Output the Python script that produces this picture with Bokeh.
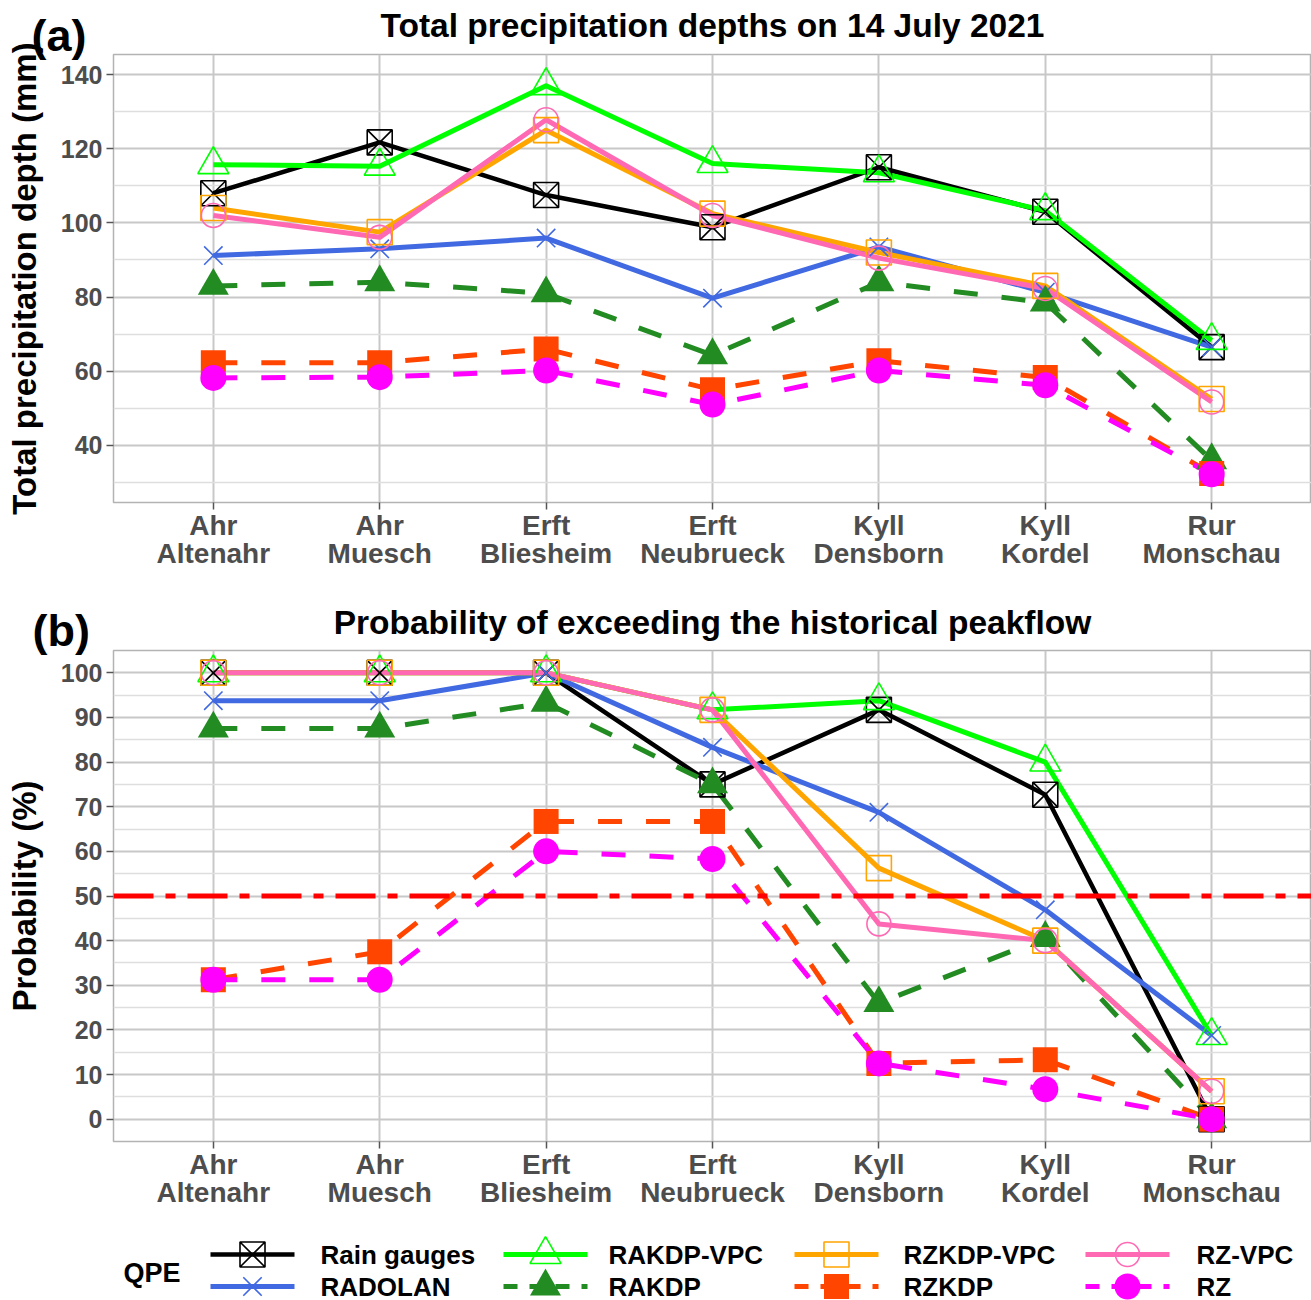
from bokeh.plotting import figure
from bokeh.models import FactorRange, FixedTicker, Span, Range1d, GridBox
from bokeh.embed import file_html
from bokeh.resources import INLINE
from bokeh.core.properties import value

FONT = "Liberation Sans"

# Gauging stations (river / site)
stations = ["Ahr\nAltenahr", "Ahr\nMuesch", "Erft\nBliesheim", "Erft\nNeubrueck",
            "Kyll\nDensborn", "Kyll\nKordel", "Rur\nMonschau"]

qpe_names = ["Rain gauges", "RADOLAN", "RAKDP-VPC", "RAKDP",
             "RZKDP-VPC", "RZKDP", "RZ-VPC", "RZ"]

# (a) total precipitation depth on 14 July 2021 (mm)
depth_rain_gauges = [108.0, 121.7, 107.5, 98.8, 115.0, 103.0, 66.5]
depth_radolan     = [91.2, 93.0, 95.9, 79.7, 93.5, 81.3, 66.5]
depth_rakdp_vpc   = [115.7, 115.3, 137.0, 116.0, 113.5, 103.3, 68.3]
depth_rakdp       = [83.0, 84.0, 81.0, 64.3, 84.0, 78.5, 36.0]
depth_rzkdp_vpc   = [104.0, 97.5, 125.0, 102.5, 92.0, 83.0, 52.5]
depth_rzkdp       = [62.3, 62.3, 66.0, 55.0, 62.8, 58.3, 32.4]
depth_rz_vpc      = [102.0, 96.1, 127.8, 102.0, 90.5, 82.3, 51.7]
depth_rz          = [58.2, 58.4, 60.2, 51.0, 60.2, 56.2, 32.2]

# (b) probability of exceeding the historical peakflow (%)
prob_rain_gauges = [100.0, 100.0, 100.0, 75.0, 91.7, 72.7, 0.0]
prob_radolan     = [93.75, 93.75, 100.0, 83.3, 68.75, 46.9, 18.75]
prob_rakdp_vpc   = [100.0, 100.0, 100.0, 91.7, 93.75, 80.0, 18.75]
prob_rakdp       = [87.5, 87.5, 93.3, 75.0, 26.0, 40.6, 0.0]
prob_rzkdp_vpc   = [100.0, 100.0, 100.0, 91.7, 56.25, 40.0, 6.25]
prob_rzkdp       = [31.25, 37.5, 66.7, 66.7, 12.5, 13.3, 0.0]
prob_rz_vpc      = [100.0, 100.0, 100.0, 91.7, 43.75, 40.0, 6.25]
prob_rz          = [31.25, 31.25, 60.0, 58.3, 12.5, 6.7, 0.0]

threshold = 50

depth = dict(zip(qpe_names, [depth_rain_gauges, depth_radolan, depth_rakdp_vpc, depth_rakdp,
                             depth_rzkdp_vpc, depth_rzkdp, depth_rz_vpc, depth_rz]))
prob = dict(zip(qpe_names, [prob_rain_gauges, prob_radolan, prob_rakdp_vpc, prob_rakdp,
                            prob_rzkdp_vpc, prob_rzkdp, prob_rz_vpc, prob_rz]))

# colour, marker, filled, dashed, marker size
STYLE = {
    "Rain gauges": ("black", "square_x", False, False, 25),
    "RADOLAN":     ("royalblue", "x", False, False, 26),
    "RAKDP-VPC":   ("#00ff00", "triangle", False, False, 31),
    "RAKDP":       ("forestgreen", "triangle", True, True, 31),
    "RZKDP-VPC":   ("orange", "square", False, False, 25),
    "RZKDP":       ("orangered", "square", True, True, 25),
    "RZ-VPC":      ("hotpink", "circle", False, False, 24),
    "RZ":          ("magenta", "circle", True, True, 26),
}
DASH = "24 24"
GRID_MAJOR = "#c8c8c8"
GRID_MINOR = "#dedede"
TICK_TEXT = "#4d4d4d"

WIDTH = 1311
LEFT = 113          # left border of both panels (px)
PAD = 0.1           # categorical padding beyond the outer half-categories


def make_panel(ylabel, y_start, y_end, major, minor, height, top, bottom):
    p = figure(width=WIDTH, height=height,
               x_range=FactorRange(factors=stations, range_padding=PAD,
                                   range_padding_units="absolute"),
               y_range=Range1d(y_start, y_end),
               output_backend="svg", toolbar_location=None,
               min_border_left=LEFT, min_border_right=0,
               min_border_top=top, min_border_bottom=bottom,
               background_fill_color="white", border_fill_color="white")
    p.outline_line_color = "#b3b3b3"
    p.outline_line_width = 1.5

    p.yaxis.ticker = FixedTicker(ticks=major, minor_ticks=minor)
    p.ygrid.grid_line_color = GRID_MAJOR
    p.ygrid.grid_line_width = 2
    p.ygrid.minor_grid_line_color = GRID_MINOR
    p.ygrid.minor_grid_line_width = 1.5
    p.xgrid.grid_line_color = GRID_MAJOR
    p.xgrid.grid_line_width = 2

    for ax in (p.xaxis[0], p.yaxis[0]):
        ax.axis_line_color = None
        ax.major_tick_in = 0
        ax.major_tick_out = 7
        ax.major_tick_line_color = "#555555"
        ax.major_tick_line_width = 1.5
        ax.minor_tick_line_color = None
        ax.major_label_text_font = FONT
        ax.major_label_text_font_style = "bold"
        ax.major_label_text_color = TICK_TEXT
    p.yaxis.major_label_text_font_size = "25px"
    p.yaxis.major_label_standoff = 4
    p.xaxis.major_label_text_font_size = "28px"
    p.xaxis.major_label_text_line_height = 0.93
    p.xaxis.major_label_standoff = 0

    p.yaxis.axis_label = ylabel
    p.yaxis.axis_label_text_font = FONT
    p.yaxis.axis_label_text_font_size = "33px"
    p.yaxis.axis_label_text_font_style = "bold"
    p.yaxis.axis_label_text_color = "black"
    p.yaxis.axis_label_standoff = 15
    return p


def draw_series(p, data):
    for name in qpe_names:
        color, marker, filled, dashed, size = STYLE[name]
        p.line(stations, data[name], line_color=color,
               line_width=4.5 if name == "Rain gauges" else 5,
               line_dash=DASH if dashed else "solid", line_join="round")
    for name in qpe_names:
        color, marker, filled, dashed, size = STYLE[name]
        p.scatter(stations, data[name], marker=marker, size=size,
                  line_color=color, line_width=0 if filled else 1.6,
                  fill_color=color if filled else None)


# (a) precipitation depths
A_H = 585
p_a = make_panel("Total precipitation depth (mm)",
                 24.6, 145.4, [40, 60, 80, 100, 120, 140], [30, 50, 70, 90, 110, 130],
                 height=A_H, top=54, bottom=83)
draw_series(p_a, depth)

# (b) exceedance probability
B_H = 640
p_b = make_panel("Probability (%)",
                 -5, 105, list(range(0, 101, 10)), list(range(5, 100, 10)),
                 height=B_H, top=65, bottom=84)
draw_series(p_b, prob)
p_b.add_layout(Span(location=threshold, dimension="width", line_color="red",
                    line_width=5, line_dash="40 12 10 12"))

# legend strip (coordinates are canvas pixels)
LEG_H = 75
p_leg = figure(width=WIDTH, height=LEG_H, x_range=Range1d(LEFT, WIDTH), y_range=Range1d(LEG_H, 0),
               output_backend="svg", toolbar_location=None,
               min_border_left=LEFT, min_border_right=0, min_border_top=0, min_border_bottom=0,
               x_axis_location=None, y_axis_location=None,
               background_fill_color="white", border_fill_color="white")
p_leg.grid.visible = False
p_leg.outline_line_color = None

key_centers = [252, 545, 836, 1127]
label_starts = [320, 608, 903, 1196]
row_centers = [29, 61]
key_half = 42

p_leg.text([123], [47], text=["QPE"], text_font=value(FONT), text_font_size="27px",
           text_font_style="bold", text_color="black", text_baseline="middle", text_align="left")
for i, name in enumerate(qpe_names):
    col, row = i // 2, i % 2
    color, marker, filled, dashed, size = STYLE[name]
    cx, cy = key_centers[col], row_centers[row]
    p_leg.line([cx - key_half, cx + key_half], [cy, cy], line_color=color,
               line_width=4.5 if name == "Rain gauges" else 5,
               line_dash="14 12" if dashed else "solid")
    p_leg.scatter([cx], [cy], marker=marker, size=size, line_color=color,
                  line_width=0 if filled else 1.6, fill_color=color if filled else None)
    p_leg.text([label_starts[col]], [cy], text=[name], text_font=value(FONT),
               text_font_size="26px", text_font_style="bold", text_color="black",
               text_baseline="middle", text_align="left")

# transparent full-page layer with panel titles and tags (canvas pixel coordinates)
TOTAL_H = A_H + B_H + LEG_H
p_top = figure(width=WIDTH, height=TOTAL_H, x_range=Range1d(0, WIDTH), y_range=Range1d(TOTAL_H, 0),
               output_backend="svg", toolbar_location=None, min_border=0,
               x_axis_location=None, y_axis_location=None, frame_align=False,
               background_fill_alpha=0, border_fill_alpha=0)
p_top.grid.visible = False
p_top.outline_line_color = None

titles = ["Total precipitation depths on 14 July 2021",
          "Probability of exceeding the historical peakflow"]
title_x = [(LEFT + WIDTH) / 2] * 2
title_y = [25, 621.5]
p_top.text(title_x, title_y, text=titles, text_font=value(FONT), text_font_size="33.5px",
           text_font_style="bold", text_color="black", text_baseline="middle",
           text_align="center")

tags = ["(a)", "(b)"]
tag_x = [31, 32]
tag_y = [34.5, 629.5]
p_top.text(tag_x, tag_y, text=tags, text_font=value(FONT), text_font_size="45px",
           text_font_style="bold", text_color="black", text_baseline="middle",
           text_align="left")

layout = GridBox(children=[(p_a, 0, 0), (p_b, 1, 0), (p_leg, 2, 0), (p_top, 0, 0, 3, 1)],
                 spacing=0)
open("out.html", "w").write(file_html(layout, INLINE))
